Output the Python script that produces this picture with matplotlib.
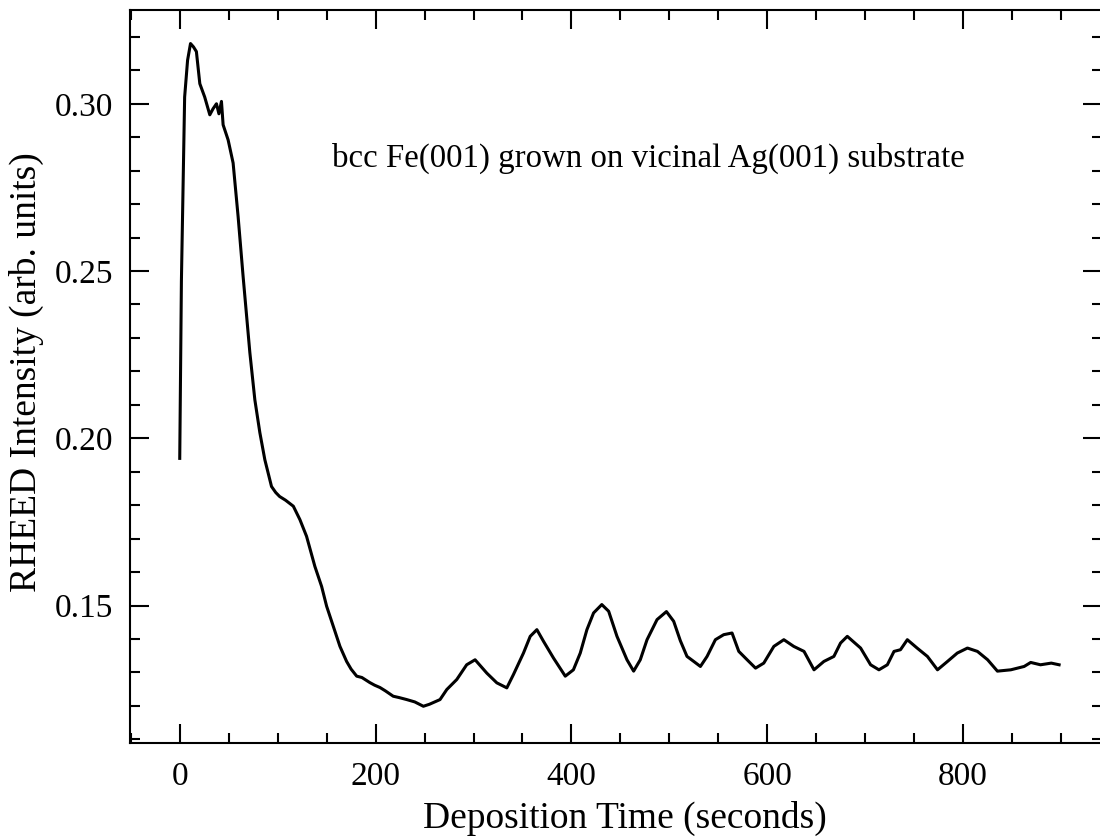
import numpy as np
import matplotlib
matplotlib.use("Agg")
import matplotlib.pyplot as plt
from matplotlib.ticker import MultipleLocator

plt.rcParams["font.family"] = ["Liberation Serif", "DejaVu Serif"]

# RHEED trace
time_s = [0, 1.7, 5, 8, 11, 14, 17, 20.5, 25.5, 30.7, 34, 37.5, 40, 42.6, 44.3,
          49.4, 54.5, 59.6, 64.7, 71.6, 76.7, 81.8, 86.9, 93.7, 98, 102, 108,
          116, 122.7, 129.5, 138, 144.9, 150, 156.8, 163.6, 170.4, 175, 180.7,
          186, 194, 199, 204.5, 210, 218, 224, 231.8, 240, 248.8, 255, 265.8,
          272.7, 282.9, 293, 301.6, 313.6, 323.8, 334, 340.8, 351, 357.9, 364.7,
          371.5, 381.7, 393.7, 402, 409, 415.8, 422.6, 431, 438, 446.5, 456.7,
          463.5, 470.3, 477.2, 487.4, 497, 504.4, 511.2, 518, 524.9, 531.7,
          538.5, 547, 555.5, 564, 570.9, 579.4, 588, 596.4, 606.7, 616.9, 627,
          637.5, 647.7, 657.8, 668, 674.8, 681.7, 695.3, 705.5, 714, 722.6,
          729.4, 736, 743, 753, 763.5, 773.8, 784, 794, 804.4, 814.6, 825, 835,
          848.7, 862.3, 869, 879, 890, 898]
intensity = [0.194, 0.247, 0.302, 0.313, 0.318, 0.317, 0.3156, 0.306, 0.302,
             0.2967, 0.2985, 0.300, 0.297, 0.3007, 0.2937, 0.2892, 0.2823,
             0.2663, 0.2484, 0.2256, 0.2115, 0.2017, 0.1936, 0.1856, 0.1838,
             0.1826, 0.1815, 0.1797, 0.1757, 0.1707, 0.1617, 0.1557, 0.1498,
             0.1438, 0.1378, 0.1333, 0.1310, 0.1289, 0.1285, 0.1270, 0.1262,
             0.1255, 0.1245, 0.1229, 0.1225, 0.1219, 0.1212, 0.1199, 0.1205,
             0.1219, 0.1249, 0.1279, 0.1323, 0.1338, 0.1298, 0.1269, 0.1254,
             0.1294, 0.1358, 0.1408, 0.1428, 0.1393, 0.1343, 0.1289, 0.1308,
             0.1358, 0.1428, 0.1478, 0.1503, 0.1483, 0.1408, 0.1338, 0.1304,
             0.1338, 0.1398, 0.1458, 0.1482, 0.1453, 0.1395, 0.1348, 0.1333,
             0.1318, 0.1348, 0.1398, 0.1413, 0.1418, 0.1363, 0.1338, 0.1313,
             0.1328, 0.1378, 0.1398, 0.1378, 0.1363, 0.1308, 0.1333, 0.1348,
             0.1388, 0.1408, 0.1373, 0.1323, 0.1308, 0.1323, 0.1363, 0.1368,
             0.1398, 0.1373, 0.1348, 0.1308, 0.1333, 0.1358, 0.1373, 0.1363,
             0.1338, 0.1304, 0.1308, 0.1318, 0.1330, 0.1323, 0.1328, 0.1323]

fig = plt.figure(figsize=(11, 8.4), dpi=100)
ax = fig.add_axes([0.118, 0.115, 0.884, 0.873])

ax.plot(time_s, intensity, color="black", linewidth=2.2)

ax.set_xlim(-51, 942)
ax.set_ylim(0.1088, 0.3280)
ax.xaxis.set_major_locator(MultipleLocator(200))
ax.xaxis.set_minor_locator(MultipleLocator(50))
ax.yaxis.set_major_locator(MultipleLocator(0.05))
ax.yaxis.set_minor_locator(MultipleLocator(0.01))
ax.yaxis.set_major_formatter(plt.FormatStrFormatter("%.2f"))

ax.tick_params(which="both", direction="in", top=True, right=True, width=1.5)
ax.tick_params(which="major", length=14)
ax.tick_params(which="minor", length=7)
ax.tick_params(axis="x", which="major", labelsize=24, pad=13)
ax.tick_params(axis="y", which="major", labelsize=24, pad=12)
for s in ax.spines.values():
    s.set_linewidth(1.5)

ax.text(155, 0.2838, "bcc Fe(001) grown on vicinal Ag(001) substrate",
        fontsize=23.7, va="center", ha="left")

ax.set_xlabel("Deposition Time (seconds)", fontsize=27, va="center")
ax.set_ylabel("RHEED Intensity (arb. units)", fontsize=27, va="center")
ax.xaxis.set_label_coords(0.509, -0.102)
ax.yaxis.set_label_coords(-0.106, 0.506)

fig.savefig("out.png", dpi=100)
